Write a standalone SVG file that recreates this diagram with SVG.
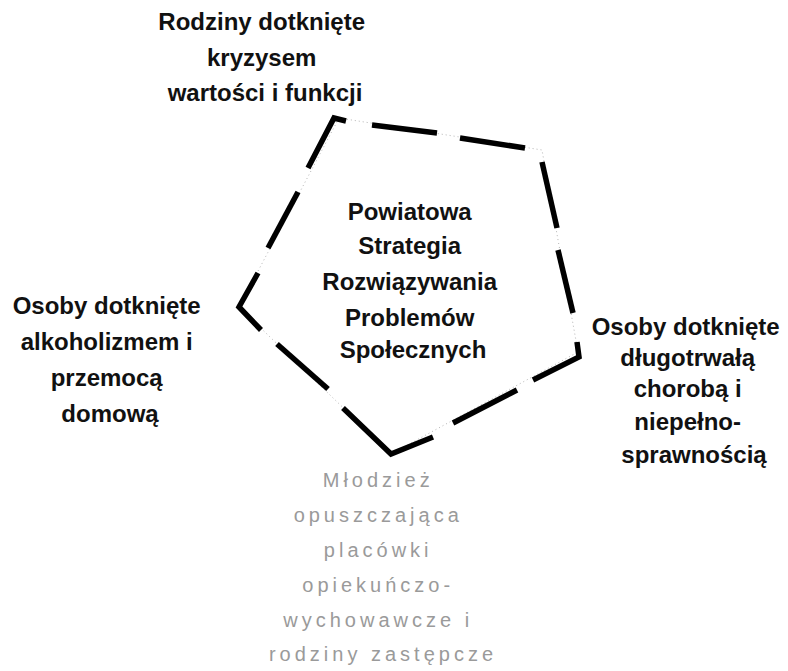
<svg xmlns="http://www.w3.org/2000/svg" width="788" height="671" viewBox="0 0 788 671">
  <style>
    .lbl { font-family: "Liberation Sans", Arial, sans-serif; font-weight: bold; font-size: 24px; fill: #111; text-anchor: middle; }
    .faint { font-family: "Liberation Sans", Arial, sans-serif; font-size: 20px; fill: #9a9a9a; text-anchor: middle; letter-spacing: 4px; }
    .dash { fill: none; stroke: #000; stroke-width: 5.5; stroke-linejoin: miter; stroke-linecap: butt; }
    .thin { fill: none; stroke: #b5b5b5; stroke-width: 1; stroke-dasharray: 1 3; }
  </style>
  <rect width="788" height="671" fill="#fff"/>

  <g id="center">
    <g id="pentagon">
      <polygon class="thin" points="339,118 542,150 578,352 391,454 239,307"/>
      <polyline class="dash" points="346,121 334,118 308,168"/>
      <line class="dash" x1="298" y1="192" x2="268" y2="248"/>
      <polyline class="dash" points="258,273 239,307 261,330"/>
      <line class="dash" x1="277" y1="344" x2="328" y2="389"/>
      <polyline class="dash" points="343,408 391,454 433,437"/>
      <line class="dash" x1="453" y1="423" x2="517" y2="390"/>
      <polyline class="dash" points="533,380 579,357 577,342"/>
      <line class="dash" x1="558" y1="250" x2="573" y2="313"/>
      <line class="dash" x1="542" y1="162" x2="557" y2="228"/>
      <line class="dash" x1="460" y1="138" x2="525" y2="148"/>
      <line class="dash" x1="372" y1="125" x2="437" y2="133"/>
    </g>
    <text class="lbl">
      <tspan x="413" y="220">Powiatowa</tspan>
      <tspan x="413" y="254">Strategia</tspan>
      <tspan x="413" y="290">Rozwiązywania</tspan>
      <tspan x="413" y="326">Problemów</tspan>
      <tspan x="413" y="358">Społecznych</tspan>
    </text>
  </g>

  <g id="top">
    <text class="lbl">
      <tspan x="265" y="30">Rodziny dotknięte</tspan>
      <tspan x="265" y="66">kryzysem</tspan>
      <tspan x="265" y="101">wartości i funkcji</tspan>
    </text>
  </g>

  <g id="left">
    <text class="lbl">
      <tspan x="110" y="314">Osoby dotknięte</tspan>
      <tspan x="110" y="350">alkoholizmem i</tspan>
      <tspan x="110" y="386">przemocą</tspan>
      <tspan x="110" y="422">domową</tspan>
    </text>
  </g>

  <g id="right">
    <text class="lbl">
      <tspan x="689" y="335">Osoby dotknięte</tspan>
      <tspan x="691" y="366">długotrwałą</tspan>
      <tspan x="691" y="397">chorobą i</tspan>
      <tspan x="691" y="430">niepełno-</tspan>
      <tspan x="694" y="463">sprawnością</tspan>
    </text>
  </g>

  <g id="bottom">
    <text class="faint">
      <tspan x="383" y="487">Młodzież</tspan>
      <tspan x="383" y="522">opuszczająca</tspan>
      <tspan x="383" y="557">placówki</tspan>
      <tspan x="383" y="592">opiekuńczo-</tspan>
      <tspan x="383" y="627">wychowawcze i</tspan>
      <tspan x="383" y="661">rodziny zastępcze</tspan>
    </text>
  </g>
</svg>
